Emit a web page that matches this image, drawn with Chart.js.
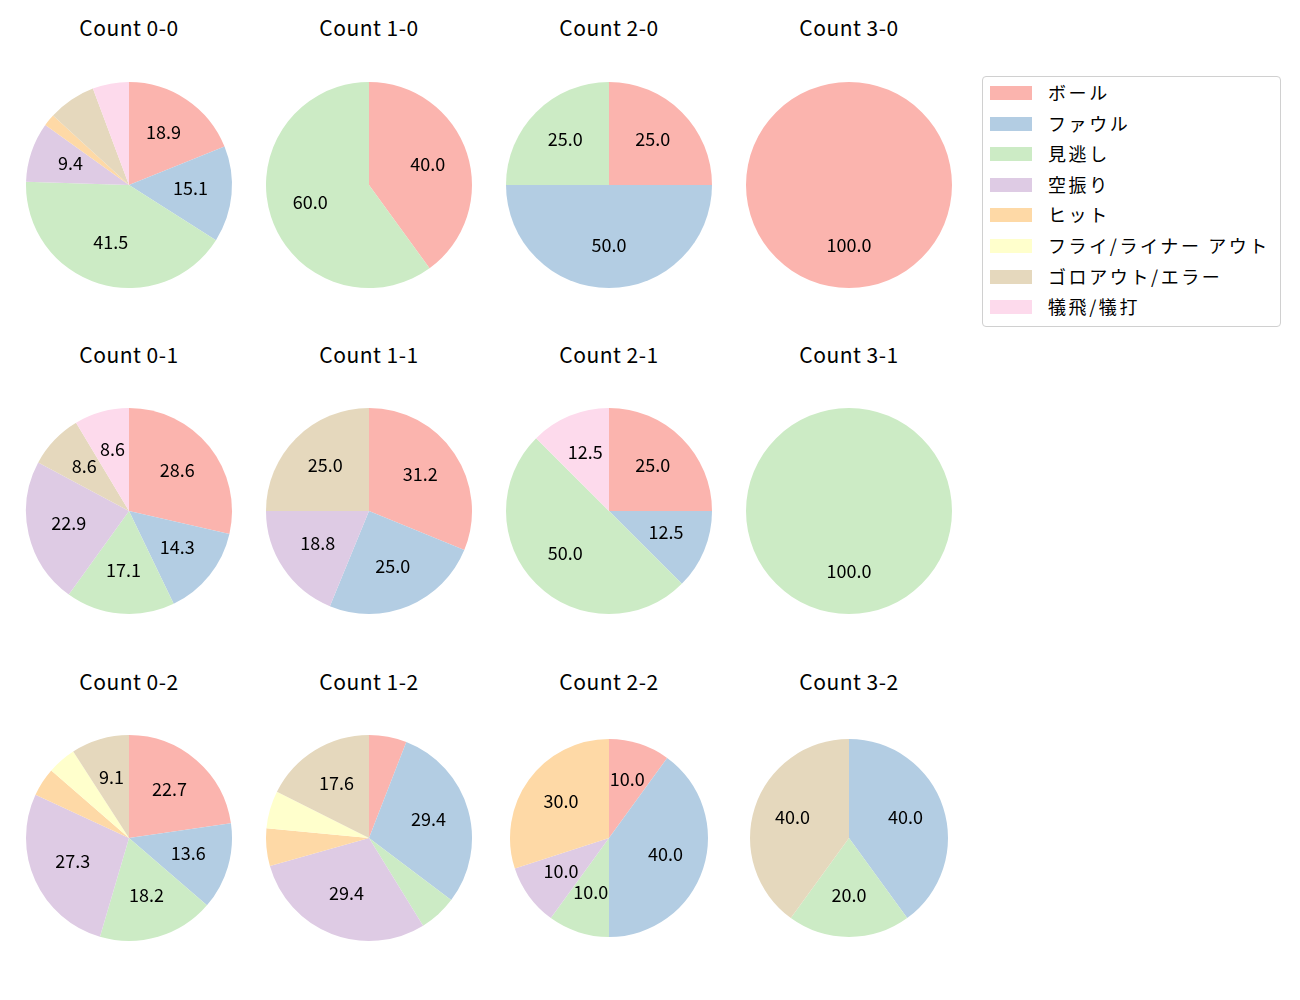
<!DOCTYPE html>
<html>
<head>
<meta charset="utf-8">
<script src="https://cdn.jsdelivr.net/npm/chart.js@4/dist/chart.umd.min.js"></script>
<style>
  body { margin: 0; background: #fff; font-family: "Noto Sans CJK JP", "Noto Sans", sans-serif; }
  #fig { position: relative; width: 1300px; height: 1000px; }
  canvas { position: absolute; }
  .title { position: absolute; width: 200px; text-align: center; font-size: 21px; color: #000; line-height: 1; letter-spacing: 0.5px; }
  #legend { position: absolute; left: 982px; top: 76px; width: 297px; height: 249px;
            border: 1px solid #d0d0d0; border-radius: 4px; background: #fff; }
  .row { position: absolute; left: 0; height: 30px; }
  .patch { position: absolute; left: 7px; width: 42px; height: 14px; }
  .lab { position: absolute; left: 65px; font-size: 18px; white-space: nowrap; line-height: 1; color: #000; letter-spacing: 2.6px; }
</style>
</head>
<body>
<div id="fig"></div>
<script>
const categories = ['ボール', 'ファウル', '見逃し', '空振り', 'ヒット', 'フライ/ライナー アウト', 'ゴロアウト/エラー', '犠飛/犠打'];
const colors = ['#fbb4ae', '#b3cde3', '#ccebc5', '#decbe4', '#fed9a6', '#ffffcc', '#e5d8bd', '#fddaec'];

const countNames = ['0-0', '1-0', '2-0', '3-0', '0-1', '1-1', '2-1', '3-1', '0-2', '1-2', '2-2', '3-2'];

// percentages per count, in category order
const c00 = [18.9, 15.1, 41.5, 9.4, 1.9, 0, 7.5, 5.7];
const c10 = [40.0, 0, 60.0, 0, 0, 0, 0, 0];
const c20 = [25.0, 50.0, 25.0, 0, 0, 0, 0, 0];
const c30 = [100.0, 0, 0, 0, 0, 0, 0, 0];
const c01 = [28.6, 14.3, 17.1, 22.9, 0, 0, 8.6, 8.6];
const c11 = [31.2, 25.0, 0, 18.8, 0, 0, 25.0, 0];
const c21 = [25.0, 12.5, 50.0, 0, 0, 0, 0, 12.5];
const c31 = [0, 0, 100.0, 0, 0, 0, 0, 0];
const c02 = [22.7, 13.6, 18.2, 27.3, 4.5, 4.5, 9.1, 0];
const c12 = [5.9, 29.4, 5.9, 29.4, 5.9, 5.9, 17.6, 0];
const c22 = [10.0, 40.0, 10.0, 10.0, 30.0, 0, 0, 0];
const c32 = [0, 40.0, 20.0, 0, 0, 0, 40.0, 0];

const allValues = [c00, c10, c20, c30, c01, c11, c21, c31, c02, c12, c22, c32];

// layout
const colX = [129, 369, 609, 849];
const rowY = [185, 511, 838];
const titleY = [17, 344, 671];
const radii = [103, 103, 103, 103, 103, 103, 103, 103, 103, 103, 99, 99];

const pctLabels = {
  id: 'pctLabels',
  afterDatasetsDraw(chart) {
    const ctx = chart.ctx;
    const data = chart.data.datasets[0].data;
    const total = data.reduce((a, b) => a + b, 0);
    ctx.save();
    ctx.font = '18px "Noto Sans CJK JP", "Noto Sans", sans-serif';
    ctx.fillStyle = '#000';
    ctx.textAlign = 'center';
    ctx.textBaseline = 'middle';
    chart.getDatasetMeta(0).data.forEach((arc, i) => {
      const pct = data[i] / total * 100;
      if (pct < 8) return;
      const p = arc.getProps(['x', 'y', 'startAngle', 'endAngle', 'outerRadius'], true);
      const mid = (p.startAngle + p.endAngle) / 2;
      const r = p.outerRadius * 0.6;
      ctx.fillText(pct.toFixed(1), p.x + Math.cos(mid) * r, p.y + Math.sin(mid) * r - 2);
    });
    ctx.restore();
  }
};

const fig = document.getElementById('fig');

countNames.forEach((name, k) => {
  const col = k % 4, row = Math.floor(k / 4);
  const cx = colX[col], cy = rowY[row], r = radii[k];

  const t = document.createElement('div');
  t.className = 'title';
  t.textContent = 'Count ' + name;
  t.style.left = (cx - 100) + 'px';
  t.style.top = titleY[row] + 'px';
  fig.appendChild(t);

  const size = 2 * r + 4;
  const cv = document.createElement('canvas');
  cv.width = size;
  cv.height = size;
  cv.style.left = (cx - r - 2) + 'px';
  cv.style.top = (cy - r - 2) + 'px';
  fig.appendChild(cv);

  new Chart(cv.getContext('2d'), {
    type: 'pie',
    data: {
      labels: categories,
      datasets: [{ data: allValues[k], backgroundColor: colors, borderWidth: 0 }]
    },
    options: {
      responsive: false,
      animation: false,
      devicePixelRatio: 1,
      layout: { padding: 2 },
      plugins: { legend: { display: false }, tooltip: { enabled: false } }
    },
    plugins: [pctLabels]
  });
});

// legend
const legend = document.createElement('div');
legend.id = 'legend';
categories.forEach((c, i) => {
  const rowEl = document.createElement('div');
  rowEl.className = 'row';
  rowEl.style.top = (1 + i * 30.6) + 'px';
  const patch = document.createElement('div');
  patch.className = 'patch';
  patch.style.background = colors[i];
  patch.style.top = '8px';
  const lab = document.createElement('div');
  lab.className = 'lab';
  lab.style.top = '5px';
  lab.textContent = c;
  rowEl.appendChild(patch);
  rowEl.appendChild(lab);
  legend.appendChild(rowEl);
});
fig.appendChild(legend);
</script>
</body>
</html>
